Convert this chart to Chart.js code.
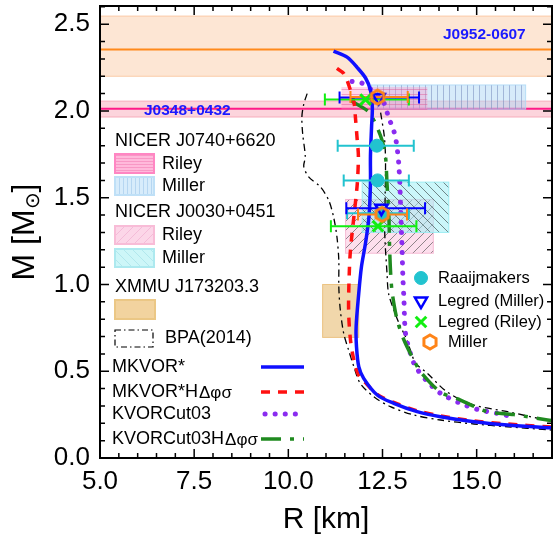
<!DOCTYPE html>
<html>
<head>
<meta charset="utf-8">
<script src="https://cdn.jsdelivr.net/npm/chart.js@4.4.1/dist/chart.umd.min.js"></script>
<style>
  html, body { margin: 0; padding: 0; background: #fff; }
</style>
</head>
<body>
<canvas id="mr" width="553" height="539"></canvas>
<script>
// ---- EoS curves: [R (km), M (Msun)] ----
var mkvor = [[11.2,2.345],[11.56,2.31],[11.83,2.25],[12.05,2.19],[12.18,2.12],[12.23,2.02],[12.21,1.91],[12.18,1.74],[12.18,1.58],[12.14,1.39],[12.05,1.24],[11.94,1.10],[11.87,0.95],[11.8,0.756],[11.81,0.64],[11.87,0.526],[12.0,0.459],[12.36,0.363],[12.8,0.315],[13.42,0.267],[14.04,0.238],[14.93,0.209],[15.82,0.19],[16.88,0.175],[17.1,0.173]];
var mkvorH = [[11.29,2.245],[11.47,2.216],[11.65,2.12],[11.75,2.04],[11.78,1.966],[11.83,1.83],[11.86,1.74],[11.83,1.58],[11.74,1.39],[11.65,1.2],[11.62,1.08],[11.6,0.853],[11.65,0.68],[11.74,0.565],[11.86,0.48],[12.02,0.44],[12.36,0.367],[12.8,0.32],[13.42,0.272],[14.04,0.243],[14.93,0.214],[15.82,0.196],[16.88,0.18],[17.1,0.178]];
var kvor = [[11.69,2.17],[11.96,2.16],[12.27,2.11],[12.53,2.05],[12.67,1.957],[12.78,1.90],[12.85,1.84],[12.89,1.784],[12.93,1.70],[12.96,1.58],[12.99,1.39],[13.02,1.2],[13.04,1.05],[13.07,0.91],[13.11,0.72],[13.24,0.603],[13.38,0.526],[13.69,0.44],[14.04,0.373],[14.53,0.319],[15.02,0.28],[15.55,0.257],[15.95,0.238]];
var kvorH = [[11.65,2.06],[12.11,2.0],[12.27,1.947],[12.49,1.83],[12.58,1.736],[12.62,1.58],[12.67,1.39],[12.69,1.2],[12.72,1.05],[12.76,0.949],[12.89,0.795],[13.07,0.68],[13.33,0.565],[13.51,0.497],[14.04,0.38],[14.57,0.334],[15.28,0.267],[15.99,0.25],[16.88,0.219],[17.1,0.214]];
var bpaSoft = [[10.5,2.10],[10.41,2.04],[10.36,1.966],[10.38,1.87],[10.45,1.736],[10.41,1.68],[10.54,1.62],[10.85,1.563],[11.07,1.486],[11.2,1.39],[11.29,1.275],[11.34,1.14],[11.34,0.987],[11.38,0.853],[11.47,0.718],[11.6,0.622],[11.74,0.526],[11.91,0.43],[12.27,0.353],[12.71,0.296],[13.33,0.248],[14.04,0.219],[14.93,0.196],[15.82,0.18],[16.88,0.163],[17.1,0.16]];
var bpaStiff = [[12.45,1.99],[12.55,1.85],[12.58,1.72],[12.57,1.5],[12.56,1.294],[12.62,1.064],[12.66,0.949],[12.8,0.853],[12.98,0.756],[13.11,0.70],[13.24,0.622],[13.38,0.546],[13.69,0.488],[14.22,0.38],[14.93,0.305],[15.82,0.267],[16.88,0.217],[17.1,0.212]];

// ---- measurements with horizontal error bars ----
var raaijR = [12.35, 12.37, 12.49], raaijM = [1.80, 1.60, 1.41], raaijLo = [11.31, 11.47, 11.56], raaijHi = [13.33, 13.2, 13.2];
var legMR = [12.4, 12.47], legMM = [2.077, 1.44], legMLo = [11.36, 11.54], legMHi = [13.47, 13.63];
var legRR = [12.05, 12.38], legRM = [2.066, 1.336], legRLo = [10.97, 11.13], legRHi = [13.2, 13.4];
var millR = [12.37, 12.49], millM = [2.08, 1.404], millLo = [11.65, 11.85], millHi = [13.17, 13.15];

// ---- mass bands [low, centre, high] ----
var j0952 = [2.20, 2.354, 2.547];
var j0348 = [1.965, 2.013, 2.057];

// ---- NICER / XMMU boxes [Rmin, Rmax, Mmin, Mmax] ----
var j0740Riley = [11.41, 13.69, 2.006, 2.138];
var j0740Miller = [12.2, 16.3, 2.01, 2.15];
var j0030Riley = [11.52, 13.85, 1.18, 1.49];
var j0030Miller = [11.96, 14.26, 1.30, 1.59];
var xmmu = [10.91, 11.87, 0.695, 1.0];

var FONT = 'Arial, "Liberation Sans", sans-serif';

function pts(a) { return a.map(p => ({x: p[0], y: p[1]})); }
function xy(rs, ms) { return rs.map((r, i) => ({x: r, y: ms[i]})); }

var canvas = document.getElementById('mr');
var ctx = canvas.getContext('2d');

function makePattern(bg, line, kind, step) {
  var c = document.createElement('canvas');
  c.width = step; c.height = step;
  var g = c.getContext('2d');
  g.fillStyle = bg; g.fillRect(0, 0, step, step);
  g.strokeStyle = line; g.lineWidth = 1;
  g.beginPath();
  if (kind === 'h') { g.moveTo(0, step - 0.5); g.lineTo(step, step - 0.5); }
  if (kind === 'v') { g.moveTo(step - 0.5, 0); g.lineTo(step - 0.5, step); }
  if (kind === '/') { g.moveTo(0, step); g.lineTo(step, 0); g.moveTo(-1, 1); g.lineTo(1, -1); g.moveTo(step - 1, step + 1); g.lineTo(step + 1, step - 1); }
  if (kind === '\\') { g.moveTo(0, 0); g.lineTo(step, step); g.moveTo(step - 1, -1); g.lineTo(step + 1, 1); g.moveTo(-1, step - 1); g.lineTo(1, step + 1); }
  g.stroke();
  return ctx.createPattern(c, 'repeat');
}

var patRileyH = makePattern('rgba(255,140,195,0.35)', 'rgba(225,90,150,0.45)', 'h', 5);
var patMillerV = makePattern('rgba(175,215,245,0.5)', 'rgba(120,140,190,0.55)', 'v', 6);
var patRileyD = makePattern('rgba(250,185,215,0.45)', 'rgba(70,70,70,0.6)', '/', 9);
var patMillerD = makePattern('rgba(160,238,245,0.55)', 'rgba(50,60,60,0.6)', '\\', 9);
var patRileyHL = makePattern('#ffb9db', 'rgba(240,110,170,0.45)', 'h', 3);
var patMillerVL = makePattern('#d7ecfb', 'rgba(160,200,235,0.6)', 'v', 4);
var patRileyDL = makePattern('#fcd6e8', 'rgba(235,160,200,0.5)', '/', 9);
var patMillerDL = makePattern('#cdf6f8', 'rgba(150,215,225,0.5)', '\\', 9);

// hexagon marker for "Miller"
var hex = document.createElement('canvas');
hex.width = 20; hex.height = 20;
(function () {
  var g = hex.getContext('2d');
  g.strokeStyle = '#ff8418'; g.lineWidth = 3;
  g.beginPath();
  for (var k = 0; k < 6; k++) {
    var a = -Math.PI / 2 + k * Math.PI / 3;
    var px = 10 + 7 * Math.cos(a), py = 10 + 7 * Math.sin(a);
    if (k === 0) g.moveTo(px, py); else g.lineTo(px, py);
  }
  g.closePath(); g.stroke();
})();

var pointStyles = {
  raaij: {pointStyle: 'circle', radius: 6.5, rotation: 0, borderWidth: 1, fill: '#22c3cf', stroke: '#22c3cf'},
  legM: {pointStyle: 'triangle', radius: 7, rotation: 180, borderWidth: 2.5, fill: 'rgba(0,0,0,0)', stroke: '#0000ff'},
  legR: {pointStyle: 'crossRot', radius: 7.5, rotation: 0, borderWidth: 3, fill: 'rgba(0,0,0,0)', stroke: '#11ee11'},
  mill: {pointStyle: hex, radius: 7, rotation: 0, borderWidth: 0, fill: 'rgba(0,0,0,0)', stroke: '#ff8418'}
};

function markerSet(data, st) {
  return {
    data: data, showLine: false, pointStyle: st.pointStyle, pointRadius: st.radius,
    pointRotation: st.rotation, pointBorderWidth: st.borderWidth,
    pointBackgroundColor: st.fill, pointBorderColor: st.stroke
  };
}
function curveSet(data, color, width, dash, cap) {
  return {
    data: pts(data), showLine: true, pointRadius: 0, borderColor: color, borderWidth: width,
    borderDash: dash, borderCapStyle: cap || 'butt', tension: 0.3, fill: false
  };
}

function txt(c, s, x, y, size, color, weight, align) {
  c.font = (weight || '') + ' ' + size + 'px ' + FONT;
  c.fillStyle = color || '#000';
  c.textAlign = align || 'left';
  c.textBaseline = 'middle';
  c.fillText(s, x, y);
  return c.measureText(s).width;
}

function boxPx(sx, sy, b) {
  var x0 = sx.getPixelForValue(b[0]), x1 = sx.getPixelForValue(b[1]);
  var y0 = sy.getPixelForValue(b[3]), y1 = sy.getPixelForValue(b[2]);
  return [x0, y0, x1 - x0, y1 - y0];
}

function errBars(c, sx, sy, rs, ms, lo, hi, color) {
  c.save();
  c.strokeStyle = color; c.lineWidth = 2; c.setLineDash([]);
  rs.forEach(function (r, i) {
    var y = sy.getPixelForValue(ms[i]);
    var a = sx.getPixelForValue(lo[i]), b = sx.getPixelForValue(hi[i]);
    c.beginPath();
    c.moveTo(a, y); c.lineTo(b, y);
    c.moveTo(a, y - 6); c.lineTo(a, y + 6);
    c.moveTo(b, y - 6); c.lineTo(b, y + 6);
    c.stroke();
  });
  c.restore();
}

var decor = {
  id: 'decor',
  beforeDatasetsDraw: function (chart) {
    var c = chart.ctx, sx = chart.scales.x, sy = chart.scales.y, a = chart.chartArea;
    c.save();
    c.beginPath(); c.rect(a.left, a.top, a.right - a.left, a.bottom - a.top); c.clip();
    // J0952-0607 band
    var yl = sy.getPixelForValue(j0952[0]), yc = sy.getPixelForValue(j0952[1]), yh = sy.getPixelForValue(j0952[2]);
    c.fillStyle = 'rgba(251,205,170,0.5)'; c.fillRect(a.left, yh, a.right - a.left, yl - yh);
    c.strokeStyle = 'rgba(250,185,140,0.7)'; c.lineWidth = 1;
    c.beginPath(); c.moveTo(a.left, yh); c.lineTo(a.right, yh); c.moveTo(a.left, yl); c.lineTo(a.right, yl); c.stroke();
    c.strokeStyle = '#ff8a1c'; c.lineWidth = 2;
    c.beginPath(); c.moveTo(a.left, yc); c.lineTo(a.right, yc); c.stroke();
    // J0348+0432 band
    yl = sy.getPixelForValue(j0348[0]); yc = sy.getPixelForValue(j0348[1]); yh = sy.getPixelForValue(j0348[2]);
    c.fillStyle = 'rgba(250,170,185,0.5)'; c.fillRect(a.left, yh, a.right - a.left, yl - yh);
    c.strokeStyle = 'rgba(245,150,170,0.7)'; c.lineWidth = 1;
    c.beginPath(); c.moveTo(a.left, yh); c.lineTo(a.right, yh); c.moveTo(a.left, yl); c.lineTo(a.right, yl); c.stroke();
    c.strokeStyle = '#ff1a88'; c.lineWidth = 2;
    c.beginPath(); c.moveTo(a.left, yc); c.lineTo(a.right, yc); c.stroke();
    // boxes
    var r;
    r = boxPx(sx, sy, j0740Miller);
    c.fillStyle = patMillerV; c.fillRect(r[0], r[1], r[2], r[3]);
    c.strokeStyle = 'rgba(170,215,245,0.8)'; c.lineWidth = 1; c.strokeRect(r[0], r[1], r[2], r[3]);
    r = boxPx(sx, sy, j0740Riley);
    c.fillStyle = patRileyH; c.fillRect(r[0], r[1], r[2], r[3]);
    r = boxPx(sx, sy, j0030Riley);
    c.fillStyle = patRileyD; c.fillRect(r[0], r[1], r[2], r[3]);
    c.strokeStyle = 'rgba(245,175,205,0.8)'; c.strokeRect(r[0], r[1], r[2], r[3]);
    r = boxPx(sx, sy, j0030Miller);
    c.fillStyle = patMillerD; c.fillRect(r[0], r[1], r[2], r[3]);
    c.strokeStyle = 'rgba(150,235,242,0.9)'; c.strokeRect(r[0], r[1], r[2], r[3]);
    r = boxPx(sx, sy, xmmu);
    c.fillStyle = 'rgba(232,188,115,0.6)'; c.fillRect(r[0], r[1], r[2], r[3]);
    c.strokeStyle = 'rgba(232,185,110,0.8)'; c.strokeRect(r[0], r[1], r[2], r[3]);
    c.restore();
    // band labels
    txt(c, 'J0952-0607', 443, 35, 15.5, '#1a1aff', 'bold');
    txt(c, 'J0348+0432', 144, 111, 15.5, '#1a1aff', 'bold');
  },
  beforeDatasetDraw: function (chart, args) {
    if (args.index !== 3) return;
    var c = chart.ctx, sx = chart.scales.x, sy = chart.scales.y;
    errBars(c, sx, sy, raaijR, raaijM, raaijLo, raaijHi, '#22c3cf');
    errBars(c, sx, sy, legRR, legRM, legRLo, legRHi, '#11ee11');
    errBars(c, sx, sy, legMR, legMM, legMLo, legMHi, '#0000ff');
    errBars(c, sx, sy, millR, millM, millLo, millHi, '#ff8418');
  },
  afterDraw: function (chart) {
    var c = chart.ctx, sx = chart.scales.x, sy = chart.scales.y, a = chart.chartArea;
    c.save();
    // frame
    c.strokeStyle = '#000'; c.lineWidth = 2; c.setLineDash([]);
    c.strokeRect(a.left, a.top, a.right - a.left, a.bottom - a.top);
    // ticks, inward on all four sides
    c.lineWidth = 1.5;
    c.beginPath();
    for (var i = 0; i <= 26; i++) {
      var v = i / 10, y = sy.getPixelForValue(v), L = (i % 5 === 0) ? 9 : 5;
      c.moveTo(a.left, y); c.lineTo(a.left + L, y);
      c.moveTo(a.right, y); c.lineTo(a.right - L, y);
    }
    for (var j = 10; j <= 34; j++) {
      var xv = j / 2, x = sx.getPixelForValue(xv), Lx = (j % 5 === 0) ? 9 : 5;
      c.moveTo(x, a.bottom); c.lineTo(x, a.bottom - Lx);
      c.moveTo(x, a.top); c.lineTo(x, a.top + Lx);
    }
    c.stroke();

    // axis titles
    txt(c, 'R [km]', (a.left + a.right) / 2, 520, 30, '#000', '', 'center');
    c.save();
    c.translate(25, (a.top + a.bottom) / 2);
    c.rotate(-Math.PI / 2);
    c.font = '32px ' + FONT;
    var w1 = c.measureText('M [M').width;
    c.font = '20px ' + FONT;
    var w2 = c.measureText('\u2299').width;
    c.font = '32px ' + FONT;
    var w3 = c.measureText(']').width;
    var x0 = -(w1 + w2 + w3) / 2;
    txt(c, 'M [M', x0, 0, 32);
    txt(c, '\u2299', x0 + w1, 8, 20);
    txt(c, ']', x0 + w1 + w2, 0, 32);
    c.restore();

    // left legend: observations
    txt(c, 'NICER J0740+6620', 115, 141, 18);
    c.fillStyle = patRileyHL; c.fillRect(115, 154, 39, 19);
    c.strokeStyle = '#ff86c3'; c.lineWidth = 2; c.strokeRect(115, 154, 39, 19);
    txt(c, 'Riley', 162, 164, 18);
    c.fillStyle = patMillerVL; c.fillRect(115, 177, 39, 18);
    c.strokeStyle = '#bfe0f7'; c.strokeRect(115, 177, 39, 18);
    txt(c, 'Miller', 162, 186, 18);
    txt(c, 'NICER J0030+0451', 115, 212, 18);
    c.fillStyle = patRileyDL; c.fillRect(115, 226, 39, 18);
    c.strokeStyle = '#f8bcd7'; c.strokeRect(115, 226, 39, 18);
    txt(c, 'Riley', 162, 235, 18);
    c.fillStyle = patMillerDL; c.fillRect(115, 249, 39, 18);
    c.strokeStyle = '#ade9ef'; c.strokeRect(115, 249, 39, 18);
    txt(c, 'Miller', 162, 258, 18);
    txt(c, 'XMMU J173203.3', 115, 287, 18);
    c.fillStyle = '#f2d39f'; c.fillRect(115, 300, 40, 19);
    c.strokeStyle = '#ebc785'; c.strokeRect(115, 300, 40, 19);
    c.strokeStyle = '#000'; c.lineWidth = 1.2; c.setLineDash([6, 3, 1.5, 3]);
    c.strokeRect(115, 330, 38, 17);
    c.setLineDash([]);
    txt(c, 'BPA(2014)', 165, 338, 18);

    // left legend: models
    var models = [
      ['MKVOR*', '', 367, '#1010ff', 3.5, [], 'butt'],
      ['MKVOR*H', '\u0394\u03c6\u03c3', 392, '#ff1010', 3.5, [9, 8], 'butt'],
      ['KVORCut03', '', 414, '#8a2cf0', 5, [0.1, 10], 'round'],
      ['KVORCut03H', '\u0394\u03c6\u03c3', 439, '#1f8a1f', 3.5, [20, 9, 4, 9], 'butt']
    ];
    models.forEach(function (m) {
      var w = txt(c, m[0], 112, m[2], 18);
      if (m[1]) txt(c, m[1], 112 + w + 1, m[2] + 1, 17, '#000', '', 'left');
      c.strokeStyle = m[3]; c.lineWidth = m[4]; c.setLineDash(m[5]); c.lineCap = m[6];
      c.beginPath(); c.moveTo(m[6] === 'round' ? 265 : 261, m[2]); c.lineTo(304, m[2]); c.stroke();
      c.setLineDash([]); c.lineCap = 'butt';
    });

    // right legend: markers
    var items = [
      [pointStyles.raaij, 421, 278, 'Raaijmakers', 438],
      [pointStyles.legM, 421, 301, 'Legred (Miller)', 438],
      [pointStyles.legR, 421, 322, 'Legred (Riley)', 438],
      [pointStyles.mill, 430, 342, 'Miller', 448]
    ];
    items.forEach(function (it) {
      var st = it[0];
      c.fillStyle = st.fill; c.strokeStyle = st.stroke; c.lineWidth = st.borderWidth;
      Chart.helpers.drawPoint(c, {pointStyle: st.pointStyle, radius: st.radius, rotation: st.rotation, borderWidth: st.borderWidth}, it[1], it[2]);
      txt(c, it[3], it[4], it[2], 16.5);
    });
    c.restore();
  }
};

new Chart(ctx, {
  type: 'scatter',
  data: {
    datasets: [
      markerSet(xy(millR, millM), pointStyles.mill),
      markerSet(xy(legRR, legRM), pointStyles.legR),
      markerSet(xy(legMR, legMM), pointStyles.legM),
      markerSet(xy(raaijR, raaijM), pointStyles.raaij),
      curveSet(mkvor, '#1010ff', 3.5, []),
      curveSet(mkvorH, '#ff1010', 3.5, [9, 8]),
      curveSet(kvorH, '#1f8a1f', 3.5, [20, 9, 4, 9]),
      curveSet(kvor, '#8a2cf0', 5, [0.1, 10], 'round'),
      curveSet(bpaStiff, '#000', 1.3, [7, 4, 2, 4]),
      curveSet(bpaSoft, '#000', 1.3, [7, 4, 2, 4])
    ]
  },
  options: {
    responsive: false,
    animation: false,
    layout: {autoPadding: false, padding: {top: 6, right: 1, left: 0, bottom: 0}},
    plugins: {legend: {display: false}, tooltip: {enabled: false}},
    scales: {
      x: {
        type: 'linear', min: 5, max: 17,
        grid: {display: false, drawTicks: false}, border: {display: false},
        ticks: {stepSize: 2.5, includeBounds: false, autoSkip: false, maxRotation: 0, padding: 8, color: '#000',
          font: {size: 26, family: FONT}, callback: v => v.toFixed(1)},
        afterFit: s => { s.height = 81; s.paddingLeft = 0; s.paddingRight = 0; }
      },
      y: {
        type: 'linear', min: 0, max: 2.605,
        grid: {display: false, drawTicks: false}, border: {display: false},
        ticks: {stepSize: 0.5, includeBounds: false, autoSkip: false, padding: 10, color: '#000',
          font: {size: 26, family: FONT}, callback: v => v.toFixed(1)},
        afterFit: s => { s.width = 100; s.paddingTop = 0; s.paddingBottom = 0; }
      }
    }
  },
  plugins: [decor]
});
</script>
</body>
</html>
